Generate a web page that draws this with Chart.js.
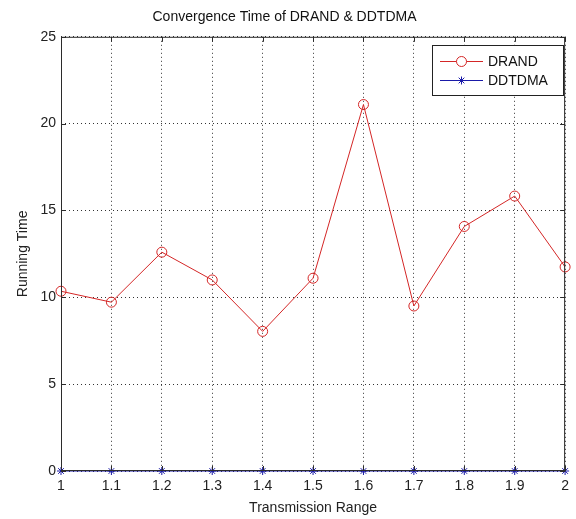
<!DOCTYPE html>
<html>
<head>
<meta charset="utf-8">
<script src="https://cdn.jsdelivr.net/npm/chart.js@4/dist/chart.umd.min.js"></script>
<style>
  html, body { margin: 0; padding: 0; background: #fff; }
  #wrap { width: 576px; height: 519px; }
</style>
</head>
<body>
<div id="wrap"><canvas id="convChart" width="576" height="519"></canvas></div>
<script>
const transmissionRange = [1, 1.1, 1.2, 1.3, 1.4, 1.5, 1.6, 1.7, 1.8, 1.9, 2];
const xTickLabels = ["1", "1.1", "1.2", "1.3", "1.4", "1.5", "1.6", "1.7", "1.8", "1.9", "2"];
const yTickValues = [0, 5, 10, 15, 20, 25];
const drandTime = [10.35, 9.72, 12.6, 11.0, 8.04, 11.1, 21.1, 9.5, 14.08, 15.83, 11.75];
const ddtdmaTime = [0, 0, 0, 0, 0, 0, 0, 0, 0, 0, 0];

const seriesNames = ["DRAND", "DDTDMA"];
const redColor = "#d42626";
const blueColor = "#1a1aa8";
const fontFamily = "Arial, 'Liberation Sans', Helvetica, sans-serif";

function toPoints(xs, ys) {
  return xs.map((x, i) => ({ x: x, y: ys[i] }));
}

// box around the plot, inward ticks, and the legend inside the axes
const matlabFrame = {
  id: "matlabFrame",
  afterDraw(chart) {
    const ctx = chart.ctx;
    const area = chart.chartArea;
    const xScale = chart.scales.x;
    const yScale = chart.scales.y;

    ctx.save();
    ctx.strokeStyle = "#2b2b2b";
    ctx.lineWidth = 1;
    ctx.strokeRect(area.left + 0.5, area.top + 0.5, area.right - area.left - 1, area.bottom - area.top - 1);

    ctx.beginPath();
    transmissionRange.forEach((v) => {
      const px = Math.round(xScale.getPixelForValue(v)) + 0.5;
      ctx.moveTo(px, area.bottom);
      ctx.lineTo(px, area.bottom - 5);
      ctx.moveTo(px, area.top);
      ctx.lineTo(px, area.top + 5);
    });
    yTickValues.forEach((v) => {
      const py = Math.round(yScale.getPixelForValue(v)) + 0.5;
      ctx.moveTo(area.left, py);
      ctx.lineTo(area.left + 5, py);
      ctx.moveTo(area.right, py);
      ctx.lineTo(area.right - 5, py);
    });
    ctx.stroke();

    // legend
    const box = { left: 432, top: 45, right: 563, bottom: 95 };
    ctx.fillStyle = "#fff";
    ctx.fillRect(box.left, box.top, box.right - box.left, box.bottom - box.top);
    ctx.strokeStyle = "#222";
    ctx.strokeRect(box.left + 0.5, box.top + 0.5, box.right - box.left, box.bottom - box.top);

    const rows = [61, 80];
    const colors = [redColor, blueColor];
    rows.forEach((ry, i) => {
      ctx.strokeStyle = colors[i];
      ctx.lineWidth = 1;
      ctx.beginPath();
      ctx.moveTo(440, ry + 0.5);
      ctx.lineTo(483, ry + 0.5);
      ctx.stroke();
      if (i === 0) {
        ctx.fillStyle = "#fff";
        ctx.beginPath();
        ctx.arc(461.5, ry + 0.5, 5, 0, Math.PI * 2);
        ctx.fill();
        ctx.stroke();
      } else {
        Chart.helpers.drawPoint(ctx, { pointStyle: "star", radius: 4, borderWidth: 1 }, 461.5, ry + 0.5);
      }
      ctx.fillStyle = "#111";
      ctx.font = "14px " + fontFamily;
      ctx.textBaseline = "middle";
      ctx.textAlign = "left";
      ctx.fillText(seriesNames[i], 488, ry + 1);
    });
    ctx.restore();
  },
};

const ctxConv = document.getElementById("convChart").getContext("2d");

const convChart = new Chart(ctxConv, {
  type: "line",
  data: {
    datasets: [
      {
        label: seriesNames[0],
        data: toPoints(transmissionRange, drandTime),
        borderColor: redColor,
        borderWidth: 1,
        backgroundColor: "transparent",
        pointStyle: "circle",
        pointRadius: 5,
        pointBorderColor: redColor,
        pointBackgroundColor: "transparent",
        pointBorderWidth: 1,
        tension: 0,
        clip: false,
      },
      {
        label: seriesNames[1],
        data: toPoints(transmissionRange, ddtdmaTime),
        borderColor: blueColor,
        borderWidth: 1,
        backgroundColor: "transparent",
        pointStyle: "star",
        pointRadius: 4,
        pointBorderColor: blueColor,
        pointBorderWidth: 1,
        tension: 0,
        clip: false,
      },
    ],
  },
  options: {
    responsive: false,
    animation: false,
    layout: { padding: { left: 0, right: 7, top: 0, bottom: 0 } },
    scales: {
      x: {
        type: "linear",
        min: 1,
        max: 2,
        afterBuildTicks: (scale) => {
          scale.ticks = transmissionRange.map((v) => ({ value: v }));
        },
        afterFit: (scale) => {
          scale.height = 48;
        },
        ticks: {
          autoSkip: false,
          maxRotation: 0,
          padding: 7,
          color: "#222",
          font: { family: fontFamily, size: 14 },
          callback: (value, index) => xTickLabels[index],
        },
        grid: {
          color: "#333",
          lineWidth: 1,
          drawTicks: false,
        },
        border: { display: false, dash: [1, 3] },
        title: {
          display: true,
          text: "Transmission Range",
          color: "#222",
          font: { family: fontFamily, size: 14 },
          padding: { top: 0, bottom: 2 },
        },
      },
      y: {
        min: 0,
        max: 25,
        afterBuildTicks: (scale) => {
          scale.ticks = yTickValues.map((v) => ({ value: v }));
        },
        afterFit: (scale) => {
          scale.width = 61;
        },
        ticks: {
          padding: 5,
          color: "#222",
          font: { family: fontFamily, size: 14 },
        },
        grid: {
          color: "#333",
          lineWidth: 1,
          drawTicks: false,
        },
        border: { display: false, dash: [1, 3] },
        title: {
          display: true,
          text: "Running Time",
          color: "#222",
          font: { family: fontFamily, size: 14 },
          padding: { top: 15, bottom: 0 },
        },
      },
    },
    plugins: {
      legend: { display: false },
      tooltip: { enabled: false },
      title: {
        display: true,
        text: "Convergence Time of DRAND & DDTDMA",
        color: "#111",
        font: { family: fontFamily, size: 14, weight: "normal" },
        padding: { top: 9, bottom: 11 },
      },
    },
  },
  plugins: [matlabFrame],
});
</script>
</body>
</html>
